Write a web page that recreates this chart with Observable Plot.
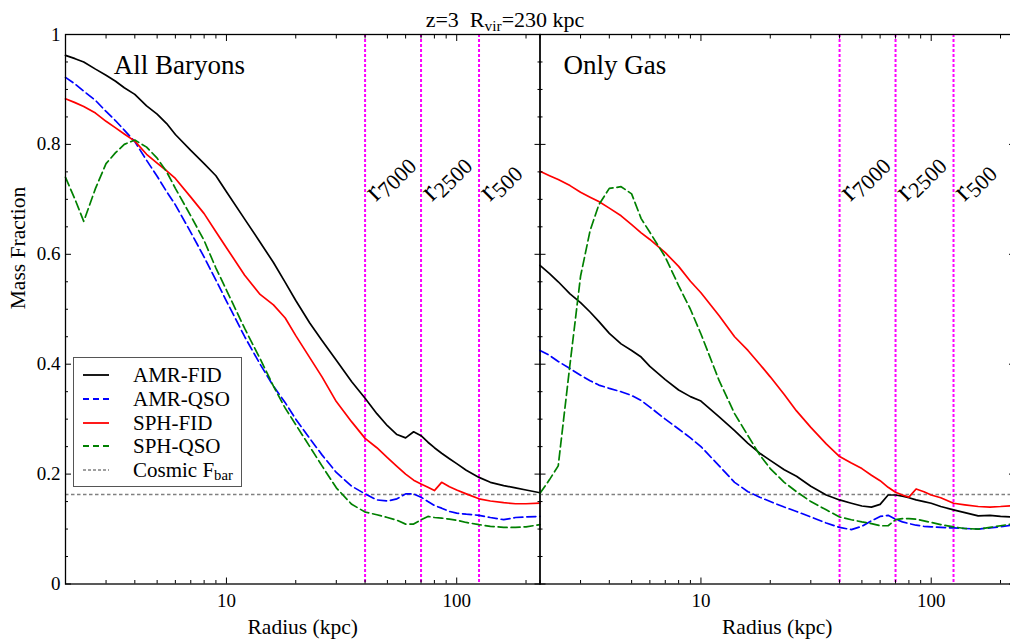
<!DOCTYPE html>
<html>
<head>
<meta charset="utf-8">
<script src="https://cdn.jsdelivr.net/npm/d3@7"></script>
<script src="https://cdn.jsdelivr.net/npm/@observablehq/plot@0.6"></script>
<style>
  html, body { margin: 0; padding: 0; background: #fff; }
  body { width: 1010px; height: 639px; overflow: hidden; position: relative;
         font-family: "Liberation Serif", "Times New Roman", serif; color: #000; }
  #title { position: absolute; top: 9px; left: 0; width: 1010px; text-align: center;
           font-size: 22px; line-height: 22px; white-space: pre; }
  #title sub { font-size: 0.7em; vertical-align: -0.25em; line-height: 0; }
  .panel { position: absolute; top: 0; height: 639px; }
  .panel svg { max-width: none !important; display: block; }
  .panel svg text { font-family: "Liberation Serif", "Times New Roman", serif !important; }
  .panel svg g[aria-label$="tick label"] { font-size: 19px; font-variant: normal; }
  #legend { position: absolute; left: 73px; top: 357px; width: 169px; height: 130px;
            border: 1px solid #555; box-sizing: border-box; background: #fff; }
  #legend .row { position: absolute; left: 0; height: 24px; display: flex; align-items: center; }
  #legend .row svg { margin-left: 9px; }
  #legend .row span { margin-left: 24px; font-size: 21px; line-height: 24px; white-space: pre; }
  #legend sub { font-size: 0.7em; vertical-align: -0.2em; line-height: 0; }
</style>
</head>
<body>
<div id="title">z=3  R<sub>vir</sub>=230 kpc</div>
<div id="left" class="panel" style="left:0px;width:541px"></div>
<div id="right" class="panel" style="left:538px;width:477px"></div>
<div id="legend"></div>
<script>
// Radii (kpc) at which the cumulative mass fractions are sampled
const radius = [2, 2.2, 2.4, 2.7, 3, 3.3, 3.6, 4, 4.5, 5, 5.5, 6, 7, 8, 9, 10, 12, 14, 16, 18, 20,
  23, 26, 30, 35, 40, 45, 50, 55, 60, 65, 70, 75, 80, 86, 93, 100, 110, 125, 140, 160, 180, 200, 230];

// All baryons (gas + stars) fraction
const baryonsAmrFid = [0.962, 0.956, 0.950, 0.937, 0.926, 0.915, 0.903, 0.891, 0.870, 0.855, 0.838, 0.818,
  0.789, 0.765, 0.743, 0.714, 0.664, 0.622, 0.585, 0.549, 0.516, 0.475, 0.443, 0.407, 0.368, 0.338, 0.310,
  0.288, 0.272, 0.266, 0.277, 0.270, 0.258, 0.248, 0.238, 0.228, 0.219, 0.207, 0.194, 0.185, 0.179, 0.175, 0.171, 0.166];
const baryonsAmrQso = [0.922, 0.910, 0.897, 0.880, 0.860, 0.843, 0.826, 0.805, 0.771, 0.742, 0.714, 0.690,
  0.640, 0.595, 0.553, 0.515, 0.450, 0.400, 0.360, 0.330, 0.300, 0.265, 0.235, 0.203, 0.178, 0.164, 0.153,
  0.151, 0.155, 0.164, 0.164, 0.158, 0.150, 0.143, 0.138, 0.132, 0.129, 0.127, 0.125, 0.121, 0.117, 0.121, 0.122, 0.123];
const baryonsSphFid = [0.883, 0.876, 0.869, 0.857, 0.842, 0.830, 0.819, 0.806, 0.782, 0.766, 0.752, 0.738,
  0.704, 0.674, 0.641, 0.612, 0.562, 0.527, 0.508, 0.484, 0.452, 0.412, 0.377, 0.332, 0.295, 0.265, 0.248,
  0.230, 0.214, 0.200, 0.189, 0.182, 0.176, 0.170, 0.185, 0.177, 0.171, 0.164, 0.155, 0.151, 0.148, 0.146, 0.146, 0.147];
const baryonsSphQso = [0.740, 0.700, 0.660, 0.720, 0.765, 0.785, 0.800, 0.808, 0.795, 0.775, 0.750, 0.720,
  0.670, 0.625, 0.575, 0.535, 0.465, 0.410, 0.360, 0.320, 0.290, 0.250, 0.215, 0.175, 0.145, 0.131, 0.126,
  0.121, 0.116, 0.109, 0.109, 0.117, 0.123, 0.121, 0.120, 0.118, 0.116, 0.112, 0.108, 0.105, 0.103, 0.103, 0.104, 0.108];

// Gas-only fraction
const gasAmrFid = [0.580, 0.565, 0.550, 0.528, 0.512, 0.495, 0.478, 0.456, 0.437, 0.425, 0.413, 0.396,
  0.372, 0.353, 0.341, 0.333, 0.304, 0.279, 0.256, 0.238, 0.225, 0.208, 0.196, 0.178, 0.162, 0.153, 0.147,
  0.142, 0.140, 0.145, 0.162, 0.162, 0.160, 0.157, 0.153, 0.150, 0.147, 0.141, 0.135, 0.130, 0.124, 0.125, 0.123, 0.122];
const gasAmrQso = [0.425, 0.416, 0.405, 0.392, 0.380, 0.370, 0.362, 0.356, 0.350, 0.343, 0.334, 0.322,
  0.300, 0.282, 0.266, 0.250, 0.215, 0.185, 0.168, 0.158, 0.150, 0.140, 0.132, 0.122, 0.111, 0.103, 0.099,
  0.105, 0.115, 0.123, 0.125, 0.118, 0.113, 0.110, 0.107, 0.105, 0.104, 0.103, 0.102, 0.101, 0.100, 0.102, 0.104, 0.108];
const gasSphFid = [0.751, 0.743, 0.736, 0.725, 0.713, 0.704, 0.696, 0.684, 0.670, 0.654, 0.639, 0.627,
  0.603, 0.578, 0.551, 0.530, 0.488, 0.450, 0.425, 0.400, 0.377, 0.345, 0.315, 0.285, 0.255, 0.232, 0.220,
  0.210, 0.198, 0.188, 0.176, 0.167, 0.162, 0.158, 0.173, 0.168, 0.162, 0.157, 0.147, 0.144, 0.141, 0.140, 0.141, 0.143];
const gasSphQso = [0.165, 0.190, 0.215, 0.400, 0.560, 0.643, 0.690, 0.720, 0.723, 0.710, 0.665, 0.640,
  0.595, 0.543, 0.500, 0.455, 0.370, 0.310, 0.270, 0.235, 0.210, 0.185, 0.168, 0.150, 0.135, 0.122, 0.117,
  0.113, 0.110, 0.106, 0.106, 0.117, 0.119, 0.119, 0.118, 0.115, 0.112, 0.108, 0.104, 0.101, 0.100, 0.103, 0.106, 0.110];

const seriesNames = ["AMR-FID", "AMR-QSO", "SPH-FID", "SPH-QSO"];
const cosmicFbar = 0.163;
const overdensityRadii = [40, 70, 125];
const overdensityLabels = ["7000", "2500", "500"];

const xTicksMajor = [10, 100];
const xTicksMinor = [2, 3, 4, 5, 6, 7, 8, 9, 20, 30, 40, 50, 60, 70, 80, 90, 200];
const yTicksMajor = [0, 0.2, 0.4, 0.6, 0.8, 1];
const yTicksMinor = [0.05, 0.1, 0.15, 0.25, 0.3, 0.35, 0.45, 0.5, 0.55, 0.65, 0.7, 0.75, 0.85, 0.9, 0.95];

// Line styling per series
const lineColor = ["#000000", "#0000ff", "#ff0000", "#008000"];
const lineDash = [undefined, "9,4", undefined, "9,4"];
const legendDash = [undefined, "6,4", undefined, "6,4"];

const serif = "'Liberation Serif', 'Times New Roman', serif";
const profileRows = (values) => radius.map((r, i) => ({radius: r, fraction: values[i]}));
const blank = () => "";
const formatY = (d) => (d === 0 || d === 1 ? String(d) : d.toFixed(1));

function panel({name, profiles, width, marginLeft, marginRight, nameDx, showY}) {
  const marks = [
    Plot.ruleY([cosmicFbar], {stroke: "#808080", strokeWidth: 1.4, strokeDasharray: "3.5,2.5"}),
    Plot.ruleX(overdensityRadii, {stroke: "#ff00ff", strokeWidth: 2, strokeDasharray: "3,2"}),
    ...profiles.map((values, i) => Plot.line(profileRows(values), {
      x: "radius", y: "fraction", stroke: lineColor[i], strokeWidth: 1.7, strokeDasharray: lineDash[i]
    })),
    // ticks on all four sides, pointing inward
    Plot.axisX(xTicksMajor, {anchor: "bottom", tickSize: -6, tickPadding: 15, tickFormat: (d) => String(d), label: null, fontSize: 19, fontFamily: serif}),
    Plot.axisX(xTicksMinor, {anchor: "bottom", tickSize: -3.5, tickFormat: blank, label: null}),
    Plot.axisX(xTicksMajor, {anchor: "top", tickSize: -6, tickFormat: blank, label: null}),
    Plot.axisX(xTicksMinor, {anchor: "top", tickSize: -3.5, tickFormat: blank, label: null}),
    Plot.axisY(yTicksMajor, {anchor: "left", tickSize: -6, tickPadding: 11, tickFormat: showY ? formatY : blank, label: null, fontSize: 19, fontFamily: serif}),
    Plot.axisY(yTicksMinor, {anchor: "left", tickSize: -3, tickFormat: blank, label: null}),
    Plot.axisY(yTicksMajor, {anchor: "right", tickSize: -6, tickFormat: blank, label: null}),
    Plot.axisY(yTicksMinor, {anchor: "right", tickSize: -3, tickFormat: blank, label: null}),
    Plot.frame({stroke: "#000", strokeWidth: 1.3}),
    Plot.text([name], {frameAnchor: "top-left", dx: nameDx, dy: 20, lineAnchor: "top", textAnchor: "start", fontSize: 27, fontFamily: serif, text: (d) => d}),
    Plot.text(["Radius (kpc)"], {frameAnchor: "bottom", dy: 34.5, lineAnchor: "top", fontSize: 21.5, fontFamily: serif, text: (d) => d}),
    Plot.text(overdensityRadii, {
      x: (d) => d, frameAnchor: "top", dx: 11, dy: 167.7, rotate: -45, textAnchor: "start",
      lineAnchor: "bottom", fontSize: 30, fontFamily: serif, text: (d, i) => "r" + overdensityLabels[i]
    })
  ];
  if (showY) {
    marks.push(Plot.text(["Mass Fraction"], {frameAnchor: "left", dx: -47, rotate: -90, fontSize: 21.5, fontFamily: serif, text: (d) => d}));
  }
  const svg = Plot.plot({
    width, height: 639,
    marginTop: 34, marginBottom: 55.5, marginLeft, marginRight,
    x: {type: "log", domain: [2, 230], axis: null},
    y: {domain: [0, 1], axis: null},
    style: {fontFamily: serif, fontSize: "19px", background: "none", color: "#000", overflow: "visible", maxWidth: "none"},
    marks
  });
  // subscripts on the overdensity radius labels
  d3.select(svg).selectAll("text")
    .filter(function () { return /^r\d+$/.test(this.textContent); })
    .each(function () {
      const sub = this.textContent.slice(1);
      this.textContent = "r";
      d3.select(this).append("tspan").attr("font-size", 22).attr("dy", 5).text(sub);
    });
  return svg;
}

document.getElementById("left").append(panel({
  name: "All Baryons",
  profiles: [baryonsAmrFid, baryonsAmrQso, baryonsSphFid, baryonsSphQso],
  width: 541, marginLeft: 65, marginRight: 1.5, nameDx: 48.3, showY: true
}));
document.getElementById("right").append(panel({
  name: "Only Gas",
  profiles: [gasAmrFid, gasAmrQso, gasSphFid, gasSphQso],
  width: 477, marginLeft: 1.5, marginRight: 1, nameDx: 23.5, showY: false
}));

// Legend
const legend = d3.select("#legend");
const legendEntries = seriesNames.map((n, i) => ({name: n, color: lineColor[i], dash: legendDash[i]}))
  .concat([{name: "Cosmic F", sub: "bar", color: "#808080", dash: "3,2"}]);
legendEntries.forEach((e, i) => {
  const row = legend.append("div").attr("class", "row").style("top", (5.4 + 23.6 * i) + "px");
  const sw = row.append("svg").attr("width", 26).attr("height", 4);
  sw.append("line").attr("x1", 0).attr("x2", 26).attr("y1", 2).attr("y2", 2)
    .attr("stroke", e.color).attr("stroke-width", e.sub ? 1.5 : 1.8)
    .attr("stroke-dasharray", e.dash ?? null);
  const label = row.append("span").text(e.name);
  if (e.sub) label.append("sub").text(e.sub);
});
</script>
</body>
</html>
